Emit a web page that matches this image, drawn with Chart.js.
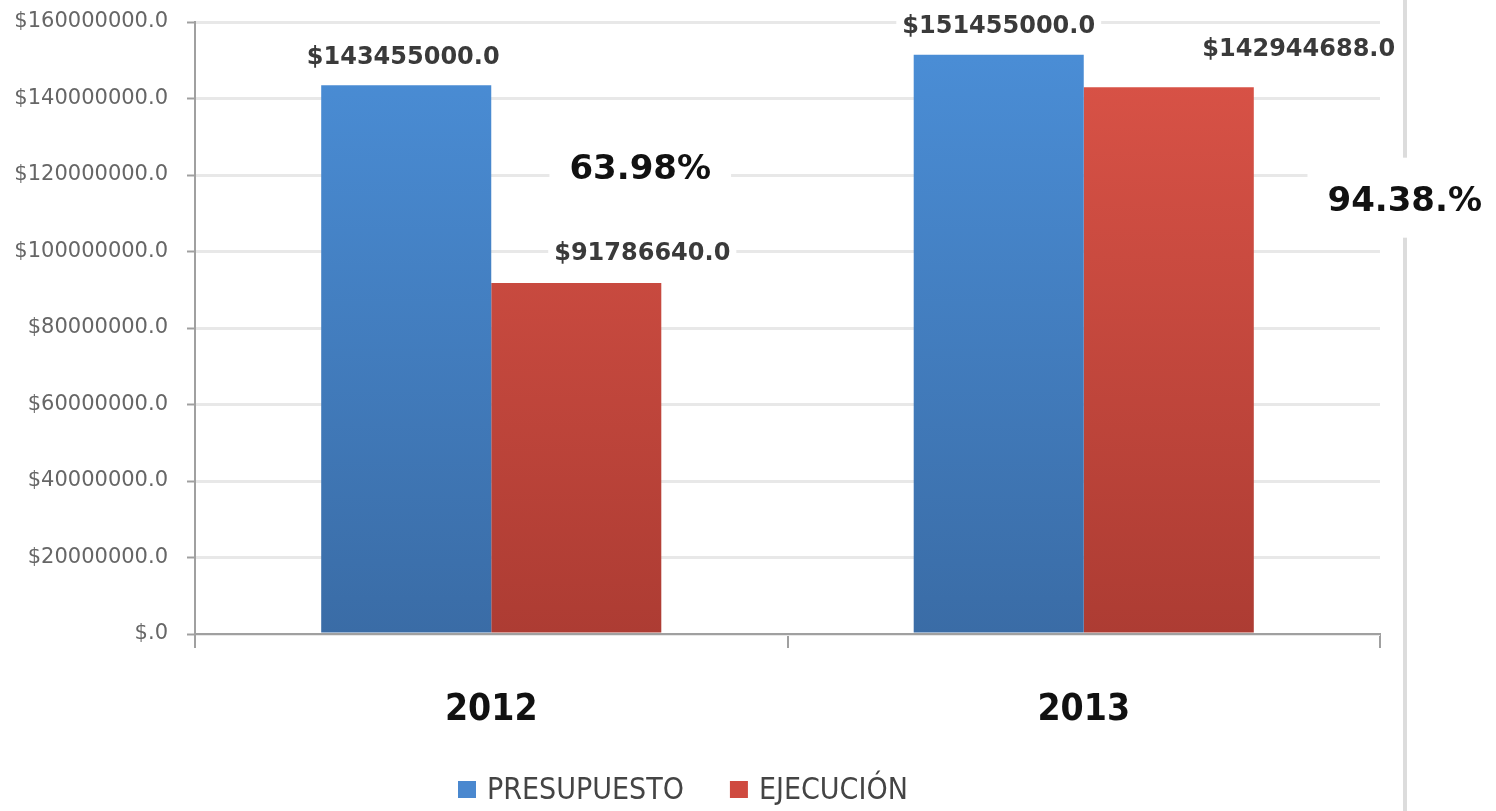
<!DOCTYPE html>
<html>
<head>
<meta charset="utf-8">
<script src="https://cdn.jsdelivr.net/npm/chart.js@4.4.1/dist/chart.umd.min.js"></script>
<style>
  html, body { margin: 0; padding: 0; background: #fff; }
  #wrap { position: relative; width: 1496px; height: 811px; }
</style>
</head>
<body>
<div id="wrap"><canvas id="budgetChart"></canvas></div>
<script>
// Data
const categories = ['2012', '2013'];
const presupuesto = [143455000, 151455000];
const ejecucion = [91786640, 142944688];
const percentLabels = ['63.98%', '94.38.%'];
const seriesNames = ['PRESUPUESTO', 'EJECUCIÓN'];
const yMin = 0, yMax = 160000000, yStep = 20000000;

const narrow = "'Liberation Sans Narrow', 'DejaVu Sans Condensed', 'Liberation Sans', sans-serif";

function fmtMoney(v) {
    return v === 0 ? '$.0' : '$' + v.toFixed(1);
}

// vertical gradient over the chart area
function barGradient(ctx, top, bottom) {
    const area = ctx.chart.chartArea;
    if (!area) return bottom;
    let g = ctx.chart.ctx.createLinearGradient(0, area.top, 0, area.bottom);
    g.addColorStop(0, top);
    g.addColorStop(1, bottom);
    return g;
}

// label offsets in px from bar top-centre, [dataset][index]
const labelShift = [
    [{ dx: -3, dy: -28 }, { dx: 0, dy: -28 }],
    [{ dx: 66, dy: -29 }, { dx: 130, dy: -37 }]
];
const pctShift = [{ dx: 149, dy: 85 }, { dx: 321, dy: 147 }];

const overlayPlugin = {
    id: 'overlay',
    afterDraw(chart) {
        const ctx = chart.ctx;
        const xS = chart.scales.x, yS = chart.scales.y;
        ctx.save();

        // right side divider line
        ctx.strokeStyle = '#dcdcdc';
        ctx.lineWidth = 4;
        ctx.beginPath();
        ctx.moveTo(1405, 0); ctx.lineTo(1405, 811);
        ctx.stroke();

        // value labels
        ctx.textAlign = 'center';
        ctx.textBaseline = 'middle';
        ctx.font = "bold 24px 'DejaVu Sans', sans-serif";
        chart.data.datasets.forEach((ds, di) => {
            chart.getDatasetMeta(di).data.forEach((bar, i) => {
                const s = labelShift[di][i];
                const x = bar.x + s.dx, y = bar.y + s.dy;
                const txt = fmtMoney(ds.data[i]);
                const w = ctx.measureText(txt).width;
                ctx.fillStyle = '#fff';
                ctx.fillRect(x - w / 2 - 6, y - 15, w + 12, 30);
                ctx.fillStyle = '#3a3a3a';
                ctx.fillText(txt, x, y);
            });
        });

        // percent labels
        ctx.font = "bold 34px 'DejaVu Sans', sans-serif";
        percentLabels.forEach((txt, i) => {
            const x = xS.getPixelForValue(i) + pctShift[i].dx;
            const y = yS.getPixelForValue(presupuesto[i]) + pctShift[i].dy;
            const w = ctx.measureText(txt).width;
            ctx.fillStyle = '#fff';
            ctx.fillRect(x - w / 2 - 20, y - 44, w + 40, 80);
            ctx.fillStyle = '#111';
            ctx.fillText(txt, x, y);
        });

        // legend
        ctx.font = '30px ' + narrow;
        ctx.textAlign = 'left';
        let lx = 458;
        const ly = 791;
        chart.data.datasets.forEach((ds) => {
            ctx.fillStyle = ds.legendColor;
            ctx.fillRect(lx, ly - 10, 18, 17);
            ctx.fillStyle = '#444';
            ctx.fillText(ds.label, lx + 29, ly);
            lx += 29 + ctx.measureText(ds.label).width + 46;
        });

        ctx.restore();
    }
};

const ctxBudget = document.getElementById('budgetChart').getContext('2d');
let budgetChart = new Chart(ctxBudget, {
    type: 'bar',
    data: {
        labels: categories,
        datasets: [
            {
                label: seriesNames[0],
                data: presupuesto,
                backgroundColor: (c) => barGradient(c, '#4b8fd8', '#3a6ca6'),
                legendColor: '#4a88cf',
                borderWidth: 0,
                categoryPercentage: 0.574,
                barPercentage: 1.0
            },
            {
                label: seriesNames[1],
                data: ejecucion,
                backgroundColor: (c) => barGradient(c, '#dc5448', '#ad3c33'),
                legendColor: '#cf4a40',
                borderWidth: 0,
                categoryPercentage: 0.574,
                barPercentage: 1.0
            }
        ]
    },
    options: {
        responsive: true,
        maintainAspectRatio: false,
        animation: false,
        layout: { padding: { top: 22, right: 116, bottom: 0, left: 0 } },
        plugins: { legend: { display: false }, tooltip: { enabled: false } },
        scales: {
            x: {
                grid: { display: true, drawOnChartArea: false, offset: true, color: '#a0a0a0', lineWidth: 2, tickLength: 14 },
                border: { display: true, color: '#a0a0a0', width: 2 },
                ticks: { color: '#111', padding: 40, font: { family: narrow, size: 37, weight: 'bold' } },
                afterFit: (s) => { s.height = 177; s.paddingLeft = 0; s.paddingRight = 0; }
            },
            y: {
                min: yMin, max: yMax,
                grid: { color: '#e8e8e8', lineWidth: 3, tickLength: 8, tickColor: '#a0a0a0', tickWidth: 2 },
                border: { display: true, color: '#a0a0a0', width: 2 },
                ticks: { stepSize: yStep, color: '#666', padding: 19, font: { family: "'DejaVu Sans', sans-serif", size: 21 }, callback: (v) => fmtMoney(v) },
                afterFit: (s) => { s.width = 195; s.paddingTop = 0; s.paddingBottom = 0; }
            }
        }
    },
    plugins: [overlayPlugin]
});
</script>
</body>
</html>
